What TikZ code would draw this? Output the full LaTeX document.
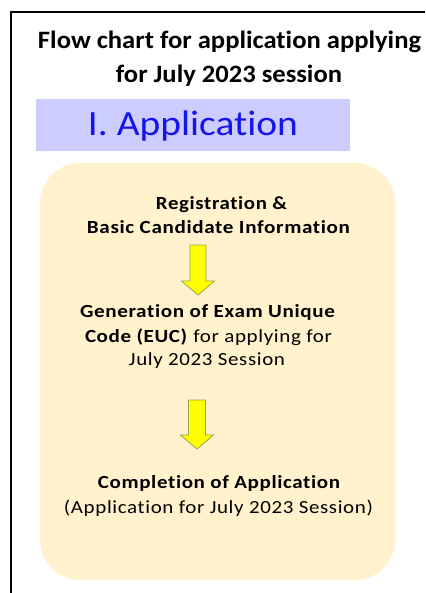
\documentclass[tikz,border=0pt]{standalone}
\usepackage{fontspec}
\setmainfont[Ligatures=NoCommon]{Carlito}
\newfontfamily\spacedfont[Ligatures=NoCommon,LetterSpace=3]{Carlito}
\definecolor{boxyellow}{RGB}{255,242,204}
\definecolor{headblue}{RGB}{204,204,255}
\definecolor{textblue}{RGB}{20,20,235}
\definecolor{arrowyellow}{RGB}{255,255,0}
\definecolor{arrowedge}{RGB}{150,165,70}
\newcommand\fitw[2]{\resizebox{#1}{\height}{#2}}
\newcommand\flowarrow[7]{% name, cx, half shaft, half head, top, headtop, tip
  \draw[arrowfill] (#2-#3,#5) -- (#2+#3,#5) -- (#2+#3,#6) -- (#2+#4,#6)
    -- (#2,#7) coordinate (#1) -- (#2-#4,#6) -- (#2-#3,#6) -- cycle;}
\begin{document}
\begin{tikzpicture}[x=1pt,y=-1pt,
  titletext/.style={anchor=base,inner sep=0pt,font=\fontsize{25}{30}\selectfont\bfseries},
  bodytext/.style={anchor=base,inner sep=0pt,font=\spacedfont\fontsize{18.5}{24}\selectfont},
  boldtext/.style={bodytext,font=\spacedfont\fontsize{18.5}{24}\selectfont\bfseries},
  arrowfill/.style={fill=arrowyellow,draw=arrowedge,line width=0.8pt,line join=miter}]
\useasboundingbox (0,0) rectangle (425,593);
\fill[white] (0,0) rectangle (425,593);
% frame
\draw[line width=2pt] (425,12) -- (11,12) -- (11,593);
% title
\node[titletext] (t1) at (229.5,49) {\fitw{383pt}{Flow chart for application applying}};
\node[titletext] (t2) at (229,83) {\fitw{226pt}{for July 2023 session}};
% heading box
\fill[headblue] (36,99) rectangle (350,151);
\node[anchor=base,inner sep=0pt,text=textblue,font=\fontsize{35.5}{40}\selectfont] (head) at (193,136) {\fitw{210pt}{I. Application}};
% yellow panel
\fill[boxyellow,rounded corners=40pt] (40,163) rectangle (395,580);
% texts
\node[boldtext] (r1) at (221.5,210) {\fitw{131pt}{Registration \&}};
\node[boldtext] (r2) at (218.5,234) {\fitw{263pt}{Basic Candidate Information}};
\node[boldtext] (g1) at (207.5,317) {\fitw{255pt}{Generation of Exam Unique}};
\node[bodytext] (g2) at (208.5,342) {\fitw{247pt}{\textbf{Code (EUC)} for applying for}};
\node[bodytext] (g3) at (207,365) {\fitw{156pt}{July 2023 Session}};
\node[boldtext] (c1) at (219,488) {\fitw{242pt}{Completion of Application}};
\node[bodytext] (c2) at (218.5,513) {\fitw{309pt}{(Application for July 2023 Session)}};
% arrows
\flowarrow{a1}{198}{8}{16.5}{245}{281}{295}
\flowarrow{a2}{197}{8.5}{16.5}{400}{435}{449}
\end{tikzpicture}
\end{document}
